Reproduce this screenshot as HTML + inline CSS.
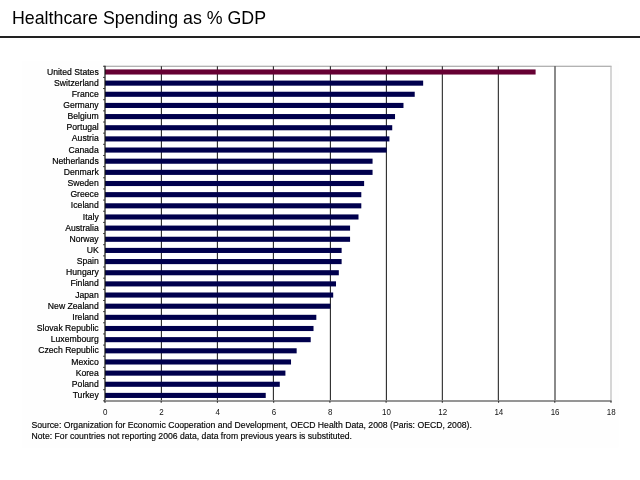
<!DOCTYPE html>
<html><head><meta charset="utf-8"><title>Healthcare Spending as % GDP</title>
<style>
html,body{margin:0;padding:0;background:#fff;}
body{width:640px;height:480px;position:relative;overflow:hidden;font-family:"Liberation Sans",Arial,sans-serif;}
h1{position:absolute;left:12px;top:6px;margin:0;font-weight:normal;font-size:17.8px;line-height:24px;color:#000;white-space:nowrap;}
.rule{position:absolute;left:0;top:36.4px;width:640px;height:1.6px;background:#222;}
</style></head><body>
<svg width="640" height="480" viewBox="0 0 640 480" style="position:absolute;left:0;top:0" font-family="Liberation Sans, Arial, sans-serif">
<rect x="22" y="61" width="596.8" height="386.6" fill="#fefefe"/>
<rect x="105.0" y="66.25" width="506.00" height="334.60" fill="#fff"/>
<line x1="105.0" y1="66.25" x2="611.5" y2="66.25" stroke="#999" stroke-width="1.2"/>
<line x1="611.0" y1="66.25" x2="611.0" y2="400.85" stroke="#bbb" stroke-width="1.2"/>
<line x1="161.40" y1="66.25" x2="161.40" y2="400.85" stroke="#2a2a2a" stroke-width="1.1"/>
<line x1="217.40" y1="66.25" x2="217.40" y2="400.85" stroke="#2a2a2a" stroke-width="1.1"/>
<line x1="273.40" y1="66.25" x2="273.40" y2="400.85" stroke="#2a2a2a" stroke-width="1.1"/>
<line x1="330.40" y1="66.25" x2="330.40" y2="400.85" stroke="#2a2a2a" stroke-width="1.1"/>
<line x1="386.40" y1="66.25" x2="386.40" y2="400.85" stroke="#2a2a2a" stroke-width="1.1"/>
<line x1="442.35" y1="66.25" x2="442.35" y2="400.85" stroke="#2a2a2a" stroke-width="1.1"/>
<line x1="498.35" y1="66.25" x2="498.35" y2="400.85" stroke="#2a2a2a" stroke-width="1.1"/>
<line x1="555.00" y1="66.25" x2="555.00" y2="400.85" stroke="#2a2a2a" stroke-width="1.1"/>
<rect x="105.00" y="69.43" width="430.60" height="5.1" fill="#660033"/>
<text transform="translate(98.7 74.53) scale(0.94 1)" font-size="9.2" text-anchor="end" fill="#000" stroke="#000" stroke-width="0.2">United States</text>
<rect x="105.00" y="80.58" width="318.16" height="5.1" fill="#00004d"/>
<text transform="translate(98.7 85.68) scale(0.94 1)" font-size="9.2" text-anchor="end" fill="#000" stroke="#000" stroke-width="0.2">Switzerland</text>
<rect x="105.00" y="91.73" width="309.72" height="5.1" fill="#00004d"/>
<text transform="translate(98.7 96.83) scale(0.94 1)" font-size="9.2" text-anchor="end" fill="#000" stroke="#000" stroke-width="0.2">France</text>
<rect x="105.00" y="102.89" width="298.48" height="5.1" fill="#00004d"/>
<text transform="translate(98.7 107.99) scale(0.94 1)" font-size="9.2" text-anchor="end" fill="#000" stroke="#000" stroke-width="0.2">Germany</text>
<rect x="105.00" y="114.04" width="290.04" height="5.1" fill="#00004d"/>
<text transform="translate(98.7 119.14) scale(0.94 1)" font-size="9.2" text-anchor="end" fill="#000" stroke="#000" stroke-width="0.2">Belgium</text>
<rect x="105.00" y="125.19" width="287.23" height="5.1" fill="#00004d"/>
<text transform="translate(98.7 130.29) scale(0.94 1)" font-size="9.2" text-anchor="end" fill="#000" stroke="#000" stroke-width="0.2">Portugal</text>
<rect x="105.00" y="136.35" width="284.42" height="5.1" fill="#00004d"/>
<text transform="translate(98.7 141.45) scale(0.94 1)" font-size="9.2" text-anchor="end" fill="#000" stroke="#000" stroke-width="0.2">Austria</text>
<rect x="105.00" y="147.50" width="281.61" height="5.1" fill="#00004d"/>
<text transform="translate(98.7 152.60) scale(0.94 1)" font-size="9.2" text-anchor="end" fill="#000" stroke="#000" stroke-width="0.2">Canada</text>
<rect x="105.00" y="158.65" width="267.56" height="5.1" fill="#00004d"/>
<text transform="translate(98.7 163.75) scale(0.94 1)" font-size="9.2" text-anchor="end" fill="#000" stroke="#000" stroke-width="0.2">Netherlands</text>
<rect x="105.00" y="169.81" width="267.56" height="5.1" fill="#00004d"/>
<text transform="translate(98.7 174.91) scale(0.94 1)" font-size="9.2" text-anchor="end" fill="#000" stroke="#000" stroke-width="0.2">Denmark</text>
<rect x="105.00" y="180.96" width="259.12" height="5.1" fill="#00004d"/>
<text transform="translate(98.7 186.06) scale(0.94 1)" font-size="9.2" text-anchor="end" fill="#000" stroke="#000" stroke-width="0.2">Sweden</text>
<rect x="105.00" y="192.11" width="256.31" height="5.1" fill="#00004d"/>
<text transform="translate(98.7 197.21) scale(0.94 1)" font-size="9.2" text-anchor="end" fill="#000" stroke="#000" stroke-width="0.2">Greece</text>
<rect x="105.00" y="203.27" width="256.31" height="5.1" fill="#00004d"/>
<text transform="translate(98.7 208.37) scale(0.94 1)" font-size="9.2" text-anchor="end" fill="#000" stroke="#000" stroke-width="0.2">Iceland</text>
<rect x="105.00" y="214.42" width="253.50" height="5.1" fill="#00004d"/>
<text transform="translate(98.7 219.52) scale(0.94 1)" font-size="9.2" text-anchor="end" fill="#000" stroke="#000" stroke-width="0.2">Italy</text>
<rect x="105.00" y="225.57" width="245.07" height="5.1" fill="#00004d"/>
<text transform="translate(98.7 230.67) scale(0.94 1)" font-size="9.2" text-anchor="end" fill="#000" stroke="#000" stroke-width="0.2">Australia</text>
<rect x="105.00" y="236.73" width="245.07" height="5.1" fill="#00004d"/>
<text transform="translate(98.7 241.83) scale(0.94 1)" font-size="9.2" text-anchor="end" fill="#000" stroke="#000" stroke-width="0.2">Norway</text>
<rect x="105.00" y="247.88" width="236.63" height="5.1" fill="#00004d"/>
<text transform="translate(98.7 252.98) scale(0.94 1)" font-size="9.2" text-anchor="end" fill="#000" stroke="#000" stroke-width="0.2">UK</text>
<rect x="105.00" y="259.03" width="236.63" height="5.1" fill="#00004d"/>
<text transform="translate(98.7 264.13) scale(0.94 1)" font-size="9.2" text-anchor="end" fill="#000" stroke="#000" stroke-width="0.2">Spain</text>
<rect x="105.00" y="270.19" width="233.82" height="5.1" fill="#00004d"/>
<text transform="translate(98.7 275.29) scale(0.94 1)" font-size="9.2" text-anchor="end" fill="#000" stroke="#000" stroke-width="0.2">Hungary</text>
<rect x="105.00" y="281.34" width="231.01" height="5.1" fill="#00004d"/>
<text transform="translate(98.7 286.44) scale(0.94 1)" font-size="9.2" text-anchor="end" fill="#000" stroke="#000" stroke-width="0.2">Finland</text>
<rect x="105.00" y="292.49" width="228.20" height="5.1" fill="#00004d"/>
<text transform="translate(98.7 297.59) scale(0.94 1)" font-size="9.2" text-anchor="end" fill="#000" stroke="#000" stroke-width="0.2">Japan</text>
<rect x="105.00" y="303.65" width="225.39" height="5.1" fill="#00004d"/>
<text transform="translate(98.7 308.75) scale(0.94 1)" font-size="9.2" text-anchor="end" fill="#000" stroke="#000" stroke-width="0.2">New Zealand</text>
<rect x="105.00" y="314.80" width="211.33" height="5.1" fill="#00004d"/>
<text transform="translate(98.7 319.90) scale(0.94 1)" font-size="9.2" text-anchor="end" fill="#000" stroke="#000" stroke-width="0.2">Ireland</text>
<rect x="105.00" y="325.95" width="208.52" height="5.1" fill="#00004d"/>
<text transform="translate(98.7 331.05) scale(0.94 1)" font-size="9.2" text-anchor="end" fill="#000" stroke="#000" stroke-width="0.2">Slovak Republic</text>
<rect x="105.00" y="337.11" width="205.71" height="5.1" fill="#00004d"/>
<text transform="translate(98.7 342.21) scale(0.94 1)" font-size="9.2" text-anchor="end" fill="#000" stroke="#000" stroke-width="0.2">Luxembourg</text>
<rect x="105.00" y="348.26" width="191.66" height="5.1" fill="#00004d"/>
<text transform="translate(98.7 353.36) scale(0.94 1)" font-size="9.2" text-anchor="end" fill="#000" stroke="#000" stroke-width="0.2">Czech Republic</text>
<rect x="105.00" y="359.41" width="186.03" height="5.1" fill="#00004d"/>
<text transform="translate(98.7 364.51) scale(0.94 1)" font-size="9.2" text-anchor="end" fill="#000" stroke="#000" stroke-width="0.2">Mexico</text>
<rect x="105.00" y="370.57" width="180.41" height="5.1" fill="#00004d"/>
<text transform="translate(98.7 375.67) scale(0.94 1)" font-size="9.2" text-anchor="end" fill="#000" stroke="#000" stroke-width="0.2">Korea</text>
<rect x="105.00" y="381.72" width="174.79" height="5.1" fill="#00004d"/>
<text transform="translate(98.7 386.82) scale(0.94 1)" font-size="9.2" text-anchor="end" fill="#000" stroke="#000" stroke-width="0.2">Poland</text>
<rect x="105.00" y="392.87" width="160.73" height="5.1" fill="#00004d"/>
<text transform="translate(98.7 397.97) scale(0.94 1)" font-size="9.2" text-anchor="end" fill="#000" stroke="#000" stroke-width="0.2">Turkey</text>
<line x1="105.0" y1="65.75" x2="105.0" y2="402.35" stroke="#111" stroke-width="1.2"/>
<line x1="104.5" y1="401" x2="611.5" y2="401" stroke="#959595" stroke-width="1.8"/>
<line x1="103.10" y1="66.25" x2="105.0" y2="66.25" stroke="#333" stroke-width="1"/>
<line x1="103.10" y1="77.40" x2="105.0" y2="77.40" stroke="#333" stroke-width="1"/>
<line x1="103.10" y1="88.56" x2="105.0" y2="88.56" stroke="#333" stroke-width="1"/>
<line x1="103.10" y1="99.71" x2="105.0" y2="99.71" stroke="#333" stroke-width="1"/>
<line x1="103.10" y1="110.86" x2="105.0" y2="110.86" stroke="#333" stroke-width="1"/>
<line x1="103.10" y1="122.02" x2="105.0" y2="122.02" stroke="#333" stroke-width="1"/>
<line x1="103.10" y1="133.17" x2="105.0" y2="133.17" stroke="#333" stroke-width="1"/>
<line x1="103.10" y1="144.32" x2="105.0" y2="144.32" stroke="#333" stroke-width="1"/>
<line x1="103.10" y1="155.48" x2="105.0" y2="155.48" stroke="#333" stroke-width="1"/>
<line x1="103.10" y1="166.63" x2="105.0" y2="166.63" stroke="#333" stroke-width="1"/>
<line x1="103.10" y1="177.78" x2="105.0" y2="177.78" stroke="#333" stroke-width="1"/>
<line x1="103.10" y1="188.94" x2="105.0" y2="188.94" stroke="#333" stroke-width="1"/>
<line x1="103.10" y1="200.09" x2="105.0" y2="200.09" stroke="#333" stroke-width="1"/>
<line x1="103.10" y1="211.24" x2="105.0" y2="211.24" stroke="#333" stroke-width="1"/>
<line x1="103.10" y1="222.40" x2="105.0" y2="222.40" stroke="#333" stroke-width="1"/>
<line x1="103.10" y1="233.55" x2="105.0" y2="233.55" stroke="#333" stroke-width="1"/>
<line x1="103.10" y1="244.70" x2="105.0" y2="244.70" stroke="#333" stroke-width="1"/>
<line x1="103.10" y1="255.86" x2="105.0" y2="255.86" stroke="#333" stroke-width="1"/>
<line x1="103.10" y1="267.01" x2="105.0" y2="267.01" stroke="#333" stroke-width="1"/>
<line x1="103.10" y1="278.16" x2="105.0" y2="278.16" stroke="#333" stroke-width="1"/>
<line x1="103.10" y1="289.32" x2="105.0" y2="289.32" stroke="#333" stroke-width="1"/>
<line x1="103.10" y1="300.47" x2="105.0" y2="300.47" stroke="#333" stroke-width="1"/>
<line x1="103.10" y1="311.62" x2="105.0" y2="311.62" stroke="#333" stroke-width="1"/>
<line x1="103.10" y1="322.78" x2="105.0" y2="322.78" stroke="#333" stroke-width="1"/>
<line x1="103.10" y1="333.93" x2="105.0" y2="333.93" stroke="#333" stroke-width="1"/>
<line x1="103.10" y1="345.08" x2="105.0" y2="345.08" stroke="#333" stroke-width="1"/>
<line x1="103.10" y1="356.24" x2="105.0" y2="356.24" stroke="#333" stroke-width="1"/>
<line x1="103.10" y1="367.39" x2="105.0" y2="367.39" stroke="#333" stroke-width="1"/>
<line x1="103.10" y1="378.54" x2="105.0" y2="378.54" stroke="#333" stroke-width="1"/>
<line x1="103.10" y1="389.70" x2="105.0" y2="389.70" stroke="#333" stroke-width="1"/>
<line x1="103.10" y1="400.85" x2="105.0" y2="400.85" stroke="#333" stroke-width="1"/>
<line x1="105.00" y1="400.85" x2="105.00" y2="402.85" stroke="#333" stroke-width="1.1"/>
<text transform="translate(105.30 415) scale(0.94 1)" font-size="8.5" text-anchor="middle" fill="#111">0</text>
<line x1="161.22" y1="400.85" x2="161.22" y2="402.85" stroke="#333" stroke-width="1.1"/>
<text transform="translate(161.52 415) scale(0.94 1)" font-size="8.5" text-anchor="middle" fill="#111">2</text>
<line x1="217.44" y1="400.85" x2="217.44" y2="402.85" stroke="#333" stroke-width="1.1"/>
<text transform="translate(217.74 415) scale(0.94 1)" font-size="8.5" text-anchor="middle" fill="#111">4</text>
<line x1="273.67" y1="400.85" x2="273.67" y2="402.85" stroke="#333" stroke-width="1.1"/>
<text transform="translate(273.97 415) scale(0.94 1)" font-size="8.5" text-anchor="middle" fill="#111">6</text>
<line x1="329.89" y1="400.85" x2="329.89" y2="402.85" stroke="#333" stroke-width="1.1"/>
<text transform="translate(330.19 415) scale(0.94 1)" font-size="8.5" text-anchor="middle" fill="#111">8</text>
<line x1="386.11" y1="400.85" x2="386.11" y2="402.85" stroke="#333" stroke-width="1.1"/>
<text transform="translate(386.41 415) scale(0.94 1)" font-size="8.5" text-anchor="middle" fill="#111">10</text>
<line x1="442.33" y1="400.85" x2="442.33" y2="402.85" stroke="#333" stroke-width="1.1"/>
<text transform="translate(442.63 415) scale(0.94 1)" font-size="8.5" text-anchor="middle" fill="#111">12</text>
<line x1="498.56" y1="400.85" x2="498.56" y2="402.85" stroke="#333" stroke-width="1.1"/>
<text transform="translate(498.86 415) scale(0.94 1)" font-size="8.5" text-anchor="middle" fill="#111">14</text>
<line x1="554.78" y1="400.85" x2="554.78" y2="402.85" stroke="#333" stroke-width="1.1"/>
<text transform="translate(555.08 415) scale(0.94 1)" font-size="8.5" text-anchor="middle" fill="#111">16</text>
<line x1="611.00" y1="400.85" x2="611.00" y2="402.85" stroke="#333" stroke-width="1.1"/>
<text transform="translate(611.30 415) scale(0.94 1)" font-size="8.5" text-anchor="middle" fill="#111">18</text>
<text x="31.5" y="427.9" font-size="9.1" fill="#000" stroke="#000" stroke-width="0.15" textLength="440.3" lengthAdjust="spacingAndGlyphs">Source: Organization for Economic Cooperation and Development, OECD Health Data, 2008 (Paris: OECD, 2008).</text>
<text x="31.5" y="438.5" font-size="9.1" fill="#000" stroke="#000" stroke-width="0.15" textLength="320.5" lengthAdjust="spacingAndGlyphs">Note: For countries not reporting 2006 data, data from previous years is substituted.</text>
</svg>
<h1>Healthcare Spending as % GDP</h1>
<div class="rule"></div>
</body></html>
